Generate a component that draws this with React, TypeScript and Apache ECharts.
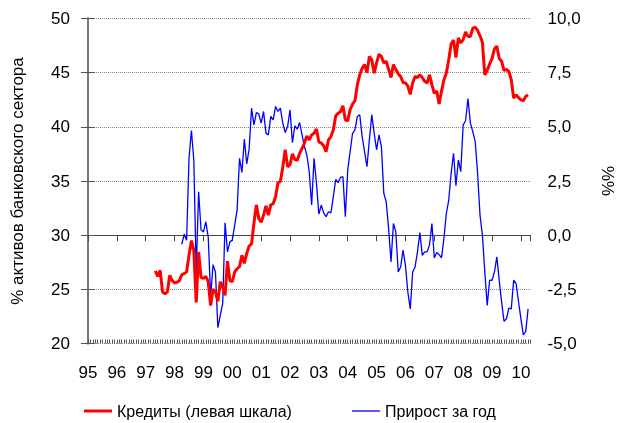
import React, { useEffect, useRef } from "react";
import * as echarts from "echarts";

// Months counted from January 1995
const AXIS_MONTHS = 184;
const YEAR_LABEL_START = 95;

const creditStart = 28;
const creditValues = [
  26.7, 26.2, 26.75, 24.75, 24.6, 24.75, 26.3, 25.8, 25.6, 25.65, 25.8, 26.35, 26.45, 26.6,
  28.15, 29.5, 28.6, 23.8, 28.45, 26.1, 26.0, 26.2, 25.7, 23.5, 25.0, 24.75, 23.9, 25.7,
  25.2, 24.45, 27.6, 25.8, 25.7, 26.6, 26.9, 27.1,
  28.15, 27.4, 28.3, 29.0, 29.2, 31.1, 32.8, 31.55, 31.2, 31.85, 32.7, 31.85, 32.8, 32.9,
  33.55, 34.85, 34.95, 36.3, 37.9, 36.3, 36.5, 37.5, 37.0, 36.9, 37.55, 38.0, 38.5, 39.15,
  38.8, 39.25, 39.4, 39.8, 38.6, 38.5, 38.25, 37.7, 38.8, 39.1, 39.7, 41.0, 41.25, 41.4,
  41.95, 40.65, 40.55, 41.6,
  42.1, 42.4, 43.9, 44.8, 45.4, 45.75, 45.0, 46.5, 46.2, 44.95, 45.9, 46.7, 46.5, 45.9,
  46.05, 45.3, 44.55, 45.75, 45.3, 44.9, 44.65, 44.1, 44.05, 43.75, 43.0, 44.05, 44.65,
  44.55, 44.8, 44.55, 44.2, 44.05, 44.8, 43.9, 43.1, 43.3, 42.1, 43.3, 44.35, 44.95, 46.2,
  47.65,
  48.0, 46.4, 48.2, 47.75, 48.05, 48.75, 48.35, 48.35, 49.1, 49.2, 48.9, 48.4, 47.8, 44.8,
  45.2, 45.8, 46.3, 47.2, 47.45, 46.3, 46.05, 45.2, 45.3, 45.1, 44.35, 42.65, 42.95, 42.7,
  42.5, 42.4, 42.8, 42.95,
];

const growthStart = 39;
const growthValues = [
  -0.42, 0.05, -0.23, 3.55, 4.83, 3.47, -1.7, 2.0, 0.25, 0.15, 0.62, -0.1, -2.86, -1.36,
  -1.7, -4.27, -3.7, -3.16, 0.57, -0.77, -0.31, -0.23, 0.46, 1.16,
  3.55, 2.9, 4.43, 3.29, 3.97, 5.86, 5.09, 5.66, 5.6, 5.17, 5.71, 4.71, 4.63, 5.48, 5.32,
  5.94, 5.71, 5.86, 5.17, 4.74, 5.01, 5.79, 4.27, 5.05, 4.89, 5.2, 4.63, 4.09, 3.7, 2.93,
  1.39, 3.55, 2.39, 0.97, 1.39, 1.03, 0.85, 1.08, 1.03, 1.77, 2.57, 2.42, 2.67,
  2.7, 0.85, 3.0, 3.86, 4.7, 4.86, 5.48, 5.56, 4.55, 3.86, 3.16, 4.4, 5.56, 4.7, 3.94,
  4.63, 4.09, 1.93, 1.54, 0.31, -1.24, 0.54, 0.15, -1.7, -1.47, -0.69, -1.39, -2.63, -3.4,
  -1.7, -1.47, -0.77, 0.12, -0.93, -0.77, -0.77, -0.46, 0.54, -1.05, -0.8, -0.9, -1.05,
  -0.15, 1.0, 1.62,
  2.86, 3.78, 2.28, 3.47, 2.93, 5.09, 5.28, 6.3, 5.17, 4.78, 4.32, 2.86, 0.93, 0.0, -1.7,
  -3.24, -2.08, -2.08, -1.7, -1.0, -2.1, -3.1, -3.98, -3.86, -3.37, -3.4, -2.08, -2.24,
  -3.05, -3.85, -4.6, -4.45, -3.4,
];

const creditName = "Кредиты (левая шкала)";
const growthName = "Прирост за год";
const leftAxisName = "% активов банковского сектора";
const rightAxisName = "%%";

const FONT = "'Liberation Sans', Arial, sans-serif";
const RED = "#ff0000";
const BLUE = "#0000ff";

export default function App() {
  const ref = useRef<HTMLDivElement>(null);

  useEffect(() => {
    document.body.style.margin = "0";
    document.body.style.overflow = "hidden";
    document.documentElement.style.overflow = "hidden";
    if (!ref.current) return;
    const chart = echarts.init(ref.current, null, { renderer: "svg" });

    const creditData = creditValues.map((v, i) => [creditStart + i, v]);
    const growthData = growthValues.map((v, i) => [growthStart + i, v]);

    const yearLabel = (v: number) => {
      if (v % 12 !== 0) return "";
      const y = (YEAR_LABEL_START + v / 12) % 100;
      return String(y).padStart(2, "0");
    };

    chart.setOption({
      animation: false,
      textStyle: { fontFamily: FONT },
      grid: {
        left: 88,
        right: 89.5,
        top: 18.5,
        bottom: 79.5,
        containLabel: false,
        outerBoundsMode: "none",
      },
      legend: [
        {
          data: [{ name: creditName, icon: "rect", itemStyle: { color: RED } }],
          left: 79,
          top: 398,
          itemWidth: 28,
          itemHeight: 3,
          itemGap: 0,
          textStyle: { fontSize: 16, color: "#000", fontFamily: FONT },
        },
        {
          data: [{ name: growthName, icon: "rect", itemStyle: { color: BLUE } }],
          left: 347,
          top: 398,
          itemWidth: 28,
          itemHeight: 1.3,
          itemGap: 0,
          textStyle: { fontSize: 16, color: "#000", fontFamily: FONT },
        },
      ],
      xAxis: [
        {
          type: "value",
          position: "bottom",
          min: 0,
          max: AXIS_MONTHS,
          interval: 12,
          axisLine: { show: true, lineStyle: { color: "#444", width: 1 } },
          axisTick: { show: true, inside: false, length: 6, lineStyle: { color: "#444", width: 1 } },
          axisLabel: {
            show: true,
            formatter: yearLabel,
            fontSize: 17,
            color: "#000",
            margin: 20,
            fontFamily: FONT,
          },
          splitLine: { show: false },
        },
        {
          type: "value",
          position: "bottom",
          min: 0,
          max: AXIS_MONTHS,
          interval: 1,
          axisLine: { show: false },
          axisTick: { show: true, inside: true, length: 4, lineStyle: { color: "#555", width: 1 } },
          axisLabel: { show: false },
          splitLine: { show: false },
        },
      ],
      yAxis: [
        {
          type: "value",
          position: "left",
          min: 20,
          max: 50,
          interval: 5,
          name: leftAxisName,
          nameLocation: "middle",
          nameRotate: 90,
          nameGap: 62,
          nameTextStyle: { fontSize: 17, color: "#000", fontFamily: FONT },
          axisLine: { show: true, lineStyle: { color: "#777", width: 2 } },
          axisTick: { show: true, inside: false, length: 7, lineStyle: { color: "#555", width: 1 } },
          axisLabel: { fontSize: 17, color: "#000", margin: 18, fontFamily: FONT },
          splitLine: { show: true, lineStyle: { color: "#888", type: "dotted", width: 1 } },
        },
        {
          type: "value",
          position: "right",
          min: -5,
          max: 10,
          interval: 2.5,
          name: rightAxisName,
          nameLocation: "middle",
          nameRotate: 90,
          nameGap: 69,
          nameTextStyle: { fontSize: 17, color: "#000", fontFamily: FONT },
          axisLine: { show: true, lineStyle: { color: "#777", width: 2 } },
          axisTick: { show: true, inside: false, length: 7, lineStyle: { color: "#555", width: 1 } },
          axisLabel: {
            fontSize: 17,
            color: "#000",
            margin: 17,
            fontFamily: FONT,
            formatter: (v: number) => v.toFixed(1).replace(".", ","),
          },
          splitLine: { show: false },
        },
      ],
      series: [
        {
          name: creditName,
          type: "line",
          xAxisIndex: 0,
          yAxisIndex: 0,
          data: creditData,
          showSymbol: false,
          symbol: "none",
          lineStyle: { color: RED, width: 3 },
          itemStyle: { color: RED },
          z: 3,
        },
        {
          name: growthName,
          type: "line",
          xAxisIndex: 0,
          yAxisIndex: 1,
          data: growthData,
          showSymbol: false,
          symbol: "none",
          lineStyle: { color: BLUE, width: 1.3 },
          itemStyle: { color: BLUE },
          z: 2,
        },
      ],
    });

    return () => chart.dispose();
  }, []);

  return (
    <div
      ref={ref}
      style={{ position: "fixed", left: 0, top: 0, width: 620, height: 423 }}
    />
  );
}
